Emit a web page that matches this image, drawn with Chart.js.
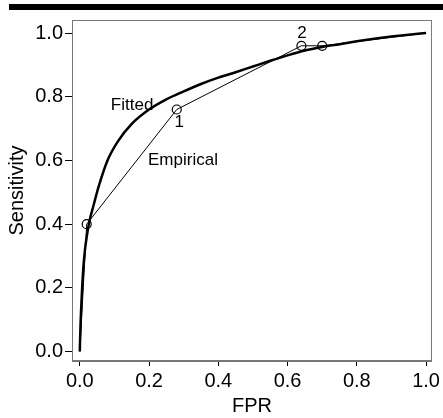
<!DOCTYPE html>
<html>
<head>
<meta charset="utf-8">
<script src="https://cdn.jsdelivr.net/npm/chart.js@4"></script>
<style>
html,body{margin:0;padding:0;background:#fff;}
canvas{display:block;}
</style>
</head>
<body>
<canvas id="c" width="443" height="418"></canvas>
<script>
// ---- data ----
const fittedFPR  = [0, 0.002, 0.005, 0.01, 0.015, 0.02, 0.028, 0.04, 0.055, 0.08, 0.11, 0.15, 0.2, 0.25, 0.3, 0.35, 0.4, 0.45, 0.5, 0.55, 0.6, 0.65, 0.7, 0.75, 0.8, 0.85, 0.9, 0.95, 1.0];
const fittedSens = [0, 0.08, 0.16, 0.26, 0.32, 0.36, 0.41, 0.46, 0.52, 0.60, 0.66, 0.715, 0.76, 0.792, 0.817, 0.84, 0.86, 0.877, 0.895, 0.913, 0.93, 0.945, 0.956, 0.965, 0.974, 0.982, 0.989, 0.995, 1.0];
const empiricalFPR  = [0, 0.02, 0.28, 0.64, 0.70, 1.0];
const empiricalSens = [0, 0.40, 0.76, 0.96, 0.96, 1.0];
const empiricalMarked = [false, true, true, true, true, false];
const tickValues = [0, 0.2, 0.4, 0.6, 0.8, 1.0];
const annotations = [
  {text: 'Fitted', x: 0.151, y: 0.774, align: 'center'},
  {text: 'Empirical', x: 0.197, y: 0.601, align: 'left'},
  {text: '1', x: 0.287, y: 0.72, align: 'center'},
  {text: '2', x: 0.642, y: 1.0, align: 'center'}
];
const xTitle = 'FPR';
const yTitle = 'Sensitivity';

const FONT = "'Liberation Sans', Arial, Helvetica, sans-serif";

const fittedPts = fittedFPR.map((x, i) => ({x, y: fittedSens[i]}));
const empPts = empiricalFPR.map((x, i) => ({x, y: empiricalSens[i]}));

const decor = {
  id: 'decor',
  beforeDraw(chart) {
    const ctx = chart.ctx;
    ctx.save();
    ctx.fillStyle = '#fff';
    ctx.fillRect(0, 0, chart.width, chart.height);
    ctx.fillStyle = '#000';
    ctx.fillRect(9, 4, 434, 6);
    ctx.restore();
  },
  afterDraw(chart) {
    const ctx = chart.ctx;
    const a = chart.chartArea;
    ctx.save();
    ctx.strokeStyle = '#777';
    ctx.lineWidth = 1;
    ctx.strokeRect(a.left + 0.5, a.top + 0.5, a.right - a.left - 1, a.bottom - a.top - 1);
    const xs = chart.scales.x, ys = chart.scales.y;
    ctx.fillStyle = '#000';
    ctx.font = "17px " + FONT;
    ctx.textBaseline = 'middle';
    annotations.forEach(an => {
      ctx.textAlign = an.align;
      ctx.fillText(an.text, xs.getPixelForValue(an.x), ys.getPixelForValue(an.y));
    });
    ctx.restore();
  }
};

new Chart(document.getElementById('c'), {
  type: 'scatter',
  data: {
    datasets: [
      {
        label: 'Fitted',
        data: fittedPts,
        showLine: true,
        borderColor: '#000',
        borderWidth: 2.5,
        pointRadius: 0,
        cubicInterpolationMode: 'monotone',
        fill: false
      },
      {
        label: 'Empirical',
        data: empPts,
        showLine: true,
        borderColor: '#000',
        borderWidth: 1,
        pointRadius: empiricalMarked.map(m => m ? 4.5 : 0),
        pointBorderColor: '#000',
        pointBorderWidth: 1.2,
        pointBackgroundColor: 'rgba(0,0,0,0)',
        tension: 0,
        fill: false
      }
    ]
  },
  options: {
    responsive: false,
    animation: false,
    devicePixelRatio: 1,
    layout: {padding: {top: 20, right: 2, left: 0, bottom: 0}},
    plugins: {legend: {display: false}, tooltip: {enabled: false}},
    scales: {
      x: {
        type: 'linear',
        min: -0.0225,
        max: 1.017,
        afterBuildTicks: s => { s.ticks = tickValues.map(v => ({value: v})); },
        afterFit: s => { s.height = 57; },
        border: {display: true, color: '#777', width: 1},
        grid: {drawOnChartArea: false, drawTicks: true, tickLength: 5, color: '#000'},
        ticks: {color: '#000', font: {family: FONT, size: 20}, padding: 3, maxRotation: 0,
                callback: v => Number(v).toFixed(1)},
        title: {display: true, text: xTitle, color: '#000', font: {family: FONT, size: 20}, padding: {top: 0, bottom: 0}}
      },
      y: {
        type: 'linear',
        min: -0.0298,
        max: 1.041,
        afterBuildTicks: s => { s.ticks = tickValues.map(v => ({value: v})); },
        afterFit: s => { s.width = 72; },
        border: {display: true, color: '#777', width: 1},
        grid: {drawOnChartArea: false, drawTicks: true, tickLength: 7, color: '#000'},
        ticks: {color: '#000', font: {family: FONT, size: 20}, padding: 2,
                callback: v => Number(v).toFixed(1)},
        title: {display: true, text: yTitle, color: '#000', font: {family: FONT, size: 20}, padding: {top: 5, bottom: 0}}
      }
    }
  },
  plugins: [decor]
});
</script>
</body>
</html>
